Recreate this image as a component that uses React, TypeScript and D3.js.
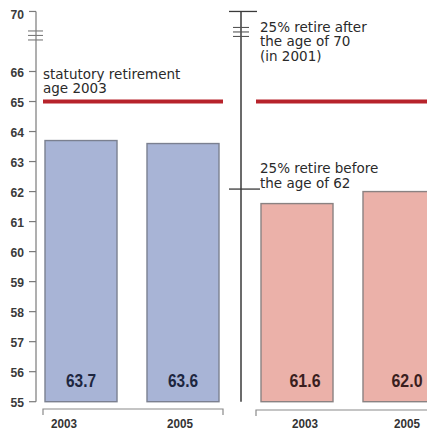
import React from "react";
import * as d3 from "d3";

const years = ["2003", "2005"];
const statutoryValues = [63.7, 63.6];
const actualValues = [61.6, 62.0];
const yTickValues = [55, 56, 57, 58, 59, 60, 61, 62, 63, 64, 65, 66];
const topTickLabel = "70";
const statutoryAge = 65;
const earlyAge = 62;
const leftNote = ["statutory retirement", "age 2003"];
const upperNote = ["25% retire after", "the age of 70", "(in 2001)"];
const lowerNote = ["25% retire before", "the age of 62"];

const W = 427;
const H = 431;
const cond = "'Liberation Sans', Arial, sans-serif";
const sans = "'DejaVu Sans', Verdana, sans-serif";

export default function App() {
  const y = d3.scaleLinear().domain([55, 66]).range([401.7, 71.5]);
  const yTop = y(68); // broken axis: 70 drawn at this position
  const xLeft = d3.scaleBand<string>().domain(years).range([45, 219]).paddingInner(0.294).paddingOuter(0);
  const xRight = d3.scaleBand<string>().domain(years).range([261, 435]).paddingInner(0.294).paddingOuter(0);
  const bw = xLeft.bandwidth();
  const base = y(55);
  const axisX = 36;
  const midX = 241;
  const yearDxLeft = [-17, -3];
  const yearDxRight = [8, 8];

  const breakMarks = [0, 4.5, 9];

  const tickLabel = (v: string, yy: number) => (
    <text x={24} y={yy} textAnchor="end" fontFamily={cond} fontWeight="bold" fontSize={13} fill="#3a3a3a" textLength={13.5} lengthAdjust="spacingAndGlyphs">
      {v}
    </text>
  );

  return (
    <svg width={W} height={H} style={{ position: "absolute", left: 0, top: 0, background: "#fff" }}>
      <rect x={0} y={0} width={W} height={H} fill="#fff" />
      {/* left axis */}
      <line x1={axisX} x2={axisX} y1={yTop} y2={base} stroke="#7a7a7a" strokeWidth={1.2} />
      {yTickValues.map((v) => (
        <g key={v}>
          <line x1={axisX - 7} x2={axisX} y1={y(v)} y2={y(v)} stroke="#7a7a7a" strokeWidth={1.2} />
          {tickLabel(String(v), y(v) + 5.5)}
        </g>
      ))}
      <line x1={axisX - 7} x2={axisX} y1={yTop} y2={yTop} stroke="#7a7a7a" strokeWidth={1.2} />
      {tickLabel(topTickLabel, yTop + 7.5)}
      {breakMarks.map((d) => (
        <line key={"lb" + d} x1={axisX - 8} x2={axisX + 7} y1={yTop + 19.5 + d} y2={yTop + 19.5 + d} stroke="#7a7a7a" strokeWidth={1.1} />
      ))}

      {/* middle axis */}
      <line x1={midX} x2={midX} y1={yTop} y2={base} stroke="#3a3a3a" strokeWidth={1.5} />
      <line x1={midX - 12} x2={midX + 16} y1={yTop} y2={yTop} stroke="#3a3a3a" strokeWidth={1.3} />
      <line x1={midX - 12} x2={midX + 19} y1={y(earlyAge) - 2.5} y2={y(earlyAge) - 2.5} stroke="#3a3a3a" strokeWidth={1.3} />
      {breakMarks.map((d) => (
        <line key={"mb" + d} x1={midX - 8} x2={midX + 8} y1={yTop + 16 + d} y2={yTop + 16 + d} stroke="#555" strokeWidth={1.1} />
      ))}

      {/* statutory line */}
      <line x1={43} x2={223} y1={y(statutoryAge)} y2={y(statutoryAge)} stroke="#b7232b" strokeWidth={4} />
      <line x1={256} x2={W} y1={y(statutoryAge)} y2={y(statutoryAge)} stroke="#b7232b" strokeWidth={4} />

      {/* bars */}
      {years.map((yr, i) => (
        <g key={"l" + yr}>
          <rect x={xLeft(yr)} y={y(statutoryValues[i])} width={bw} height={base - y(statutoryValues[i])} fill="#a8b4d6" stroke="#7b8090" strokeWidth={1.4} />
          <text x={(xLeft(yr) as number) + bw / 2} y={387} textAnchor="middle" fontFamily={cond} fontWeight="bold" fontSize={19} fill="#1d2640" textLength={30} lengthAdjust="spacingAndGlyphs">
            {statutoryValues[i].toFixed(1)}
          </text>
          <text x={(xLeft(yr) as number) + bw / 2 + yearDxLeft[i]} y={428} textAnchor="middle" fontFamily={cond} fontWeight="bold" fontSize={13.5} fill="#333" textLength={26} lengthAdjust="spacingAndGlyphs">
            {yr}
          </text>
        </g>
      ))}
      {years.map((yr, i) => (
        <g key={"r" + yr}>
          <rect x={xRight(yr)} y={y(actualValues[i])} width={bw} height={base - y(actualValues[i])} fill="#ebb1a9" stroke="#8a8282" strokeWidth={1.4} />
          <text x={(xRight(yr) as number) + bw / 2 + 8} y={387} textAnchor="middle" fontFamily={cond} fontWeight="bold" fontSize={19} fill="#3a1e1e" textLength={31} lengthAdjust="spacingAndGlyphs">
            {actualValues[i].toFixed(1)}
          </text>
          <text x={(xRight(yr) as number) + bw / 2 + yearDxRight[i]} y={428} textAnchor="middle" fontFamily={cond} fontWeight="bold" fontSize={13.5} fill="#333" textLength={26} lengthAdjust="spacingAndGlyphs">
            {yr}
          </text>
        </g>
      ))}

      {/* bottom brackets */}
      <path d={`M43,415V409H223V415`} fill="none" stroke="#8a8a8a" strokeWidth={1.2} />
      <path d={`M256,416V410H${W + 2}`} fill="none" stroke="#8a8a8a" strokeWidth={1.2} />

      {/* notes */}
      {leftNote.map((t, i) => (
        <text key={t} x={43} y={78.5 + i * 14.8} fontFamily={sans} fontSize={13.5} fill="#2a2a2a">
          {t}
        </text>
      ))}
      {upperNote.map((t, i) => (
        <text key={t} x={260} y={31.5 + i * 14.7} fontFamily={sans} fontSize={13.5} fill="#2a2a2a">
          {t}
        </text>
      ))}
      {lowerNote.map((t, i) => (
        <text key={t} x={260} y={173.3 + i * 14.5} fontFamily={sans} fontSize={13.5} fill="#2a2a2a">
          {t}
        </text>
      ))}
    </svg>
  );
}
